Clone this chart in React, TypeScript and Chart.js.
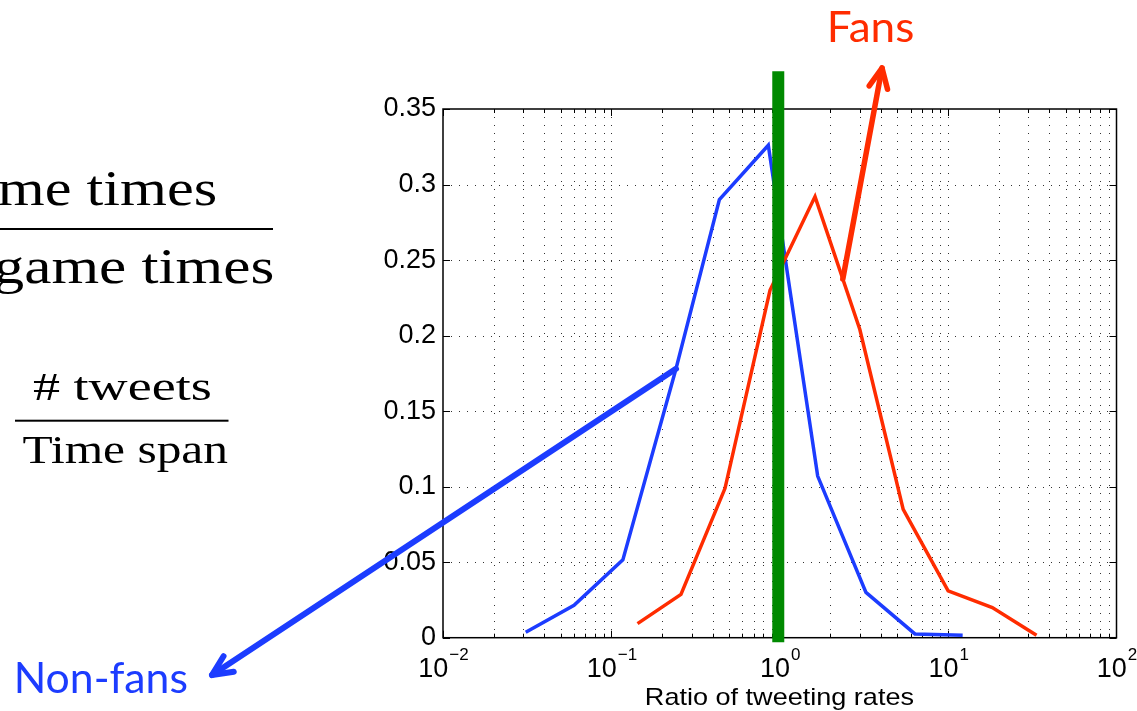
import React, { useEffect, useRef } from "react";
import { Chart, registerables } from "chart.js";

Chart.register(...registerables);

// ---- data ----
const nonFansX = [0.031, 0.06, 0.117, 0.242, 0.438, 0.855, 1.68, 3.25, 6.35, 12.2];
const nonFansY = [0.0036, 0.0215, 0.0515, 0.178, 0.29, 0.326, 0.107, 0.03, 0.0025, 0.0016];
const fansX = [0.143, 0.259, 0.473, 0.875, 1.62, 2.99, 5.41, 10.0, 18.3, 33.5];
const fansY = [0.0093, 0.0287, 0.0989, 0.23, 0.292, 0.204, 0.085, 0.031, 0.02, 0.0016];
const refLineX = [0.98, 0.98];
const refLineY = [-0.003, 0.375];

const yTickLabels = ["0", "0.05", "0.1", "0.15", "0.2", "0.25", "0.3", "0.35"];
const xTickExponents = [-2, -1, 0, 1, 2];
const xTitle = "Ratio of tweeting rates";
const fansLabel = "Fans";
const nonFansLabel = "Non-fans";
const mathTop = ["me times", "game times"];
const mathBottom = ["# tweets", "Time span"];

const BLUE = "#1c3cff";
const RED = "#ff2c00";
const GREEN = "#008a00";
const SANS = '"Liberation Sans", Arial, Helvetica, sans-serif';
const SERIF = '"Liberation Serif", "Times New Roman", serif';
const CALI = 'Lato, "Open Sans", sans-serif';

function toPoints(xs: number[], ys: number[]) {
  return xs.map((v, i) => ({ x: v, y: ys[i] }));
}

function fitText(
  ctx: CanvasRenderingContext2D,
  text: string,
  font: string,
  color: string,
  left: number,
  right: number,
  baseline: number
) {
  ctx.save();
  ctx.font = font;
  ctx.fillStyle = color;
  ctx.textAlign = "left";
  ctx.textBaseline = "alphabetic";
  const m = ctx.measureText(text);
  const ink = m.actualBoundingBoxLeft + m.actualBoundingBoxRight;
  const sx = ink > 0 ? (right - left) / ink : 1;
  ctx.translate(left + m.actualBoundingBoxLeft * sx, baseline);
  ctx.scale(sx, 1);
  ctx.fillText(text, 0, 0);
  ctx.restore();
}

function arrow(
  ctx: CanvasRenderingContext2D,
  x0: number,
  y0: number,
  x1: number,
  y1: number,
  color: string,
  w: number
) {
  ctx.save();
  ctx.strokeStyle = color;
  ctx.lineWidth = w;
  ctx.lineCap = "round";
  ctx.lineJoin = "round";
  ctx.beginPath();
  ctx.moveTo(x0, y0);
  ctx.lineTo(x1, y1);
  ctx.stroke();
  const ang = Math.atan2(y0 - y1, x0 - x1);
  const half = (25 * Math.PI) / 180;
  const len = 22;
  ctx.beginPath();
  ctx.moveTo(x1 + len * Math.cos(ang + half), y1 + len * Math.sin(ang + half));
  ctx.lineTo(x1, y1);
  ctx.lineTo(x1 + len * Math.cos(ang - half), y1 + len * Math.sin(ang - half));
  ctx.stroke();
  ctx.restore();
}

const framePlugin = {
  id: "matlabFrame",
  beforeDatasetsDraw(chart: any) {
    const { ctx, chartArea: a, scales } = chart;
    const x = scales.x;
    const y = scales.y;
    ctx.save();
    // dotted grid
    ctx.strokeStyle = "rgba(0,0,0,0.8)";
    ctx.lineWidth = 1;
    ctx.setLineDash([1, 7]);
    for (let e = -2; e <= 1; e++) {
      for (let k = 1; k <= 9; k++) {
        const v = k * Math.pow(10, e);
        if (v <= 0.01) continue;
        const px = Math.round(x.getPixelForValue(v)) + 0.5;
        ctx.beginPath();
        ctx.moveTo(px, a.top);
        ctx.lineTo(px, a.bottom);
        ctx.stroke();
      }
    }
    for (let i = 1; i < yTickLabels.length - 1; i++) {
      const py = Math.round(y.getPixelForValue(i * 0.05)) + 0.5;
      ctx.beginPath();
      ctx.moveTo(a.left, py);
      ctx.lineTo(a.right, py);
      ctx.stroke();
    }
    ctx.setLineDash([]);
    // inward tick marks
    ctx.strokeStyle = "#000";
    ctx.lineWidth = 1;
    for (let e = -2; e <= 1; e++) {
      for (let k = 1; k <= 9; k++) {
        const v = k * Math.pow(10, e);
        const px = Math.round(x.getPixelForValue(v)) + 0.5;
        const L = k === 1 ? 7 : 4;
        ctx.beginPath();
        ctx.moveTo(px, a.bottom);
        ctx.lineTo(px, a.bottom - L);
        ctx.moveTo(px, a.top);
        ctx.lineTo(px, a.top + L);
        ctx.stroke();
      }
    }
    for (let i = 0; i < yTickLabels.length; i++) {
      const py = Math.round(y.getPixelForValue(i * 0.05)) + 0.5;
      ctx.beginPath();
      ctx.moveTo(a.left, py);
      ctx.lineTo(a.left + 7, py);
      ctx.moveTo(a.right, py);
      ctx.lineTo(a.right - 7, py);
      ctx.stroke();
    }
    // axes box
    ctx.lineWidth = 1.5;
    ctx.strokeRect(a.left, a.top, a.right - a.left, a.bottom - a.top);
    ctx.restore();
  },
  afterDraw(chart: any) {
    const { ctx, chartArea: a, scales } = chart;
    const x = scales.x;
    // x tick labels: 10 with superscript exponent
    ctx.save();
    ctx.fillStyle = "#000";
    ctx.textAlign = "left";
    ctx.textBaseline = "alphabetic";
    for (const e of xTickExponents) {
      const px = x.getPixelForValue(Math.pow(10, e));
      const base = "10";
      const ex = e < 0 ? "\u2212" + -e : String(e);
      ctx.font = `27px ${SANS}`;
      const wb = ctx.measureText(base).width;
      ctx.font = `17px ${SANS}`;
      const we = ctx.measureText(ex).width;
      const start = px - (wb + we) / 2;
      ctx.font = `27px ${SANS}`;
      ctx.fillText(base, start, a.bottom + 39);
      ctx.font = `17px ${SANS}`;
      ctx.fillText(ex, start + wb + 1, a.bottom + 22.5);
    }
    ctx.restore();

    // axis title
    fitText(ctx, xTitle, `24px ${SANS}`, "#000", 646, 914, 705);

    // formulas on the left
    fitText(ctx, mathTop[0], `51px ${SERIF}`, "#000", -1, 215, 205);
    fitText(ctx, mathTop[1], `51px ${SERIF}`, "#000", -4, 272, 283);
    fitText(ctx, mathBottom[0], `40px ${SERIF}`, "#000", 33, 211, 400);
    fitText(ctx, mathBottom[1], `40px ${SERIF}`, "#000", 22.5, 228, 463);
    ctx.save();
    ctx.fillStyle = "#000";
    ctx.fillRect(0, 228, 273, 2);
    ctx.fillRect(15, 419.7, 213.5, 2);
    ctx.restore();

    // annotations
    const nf = chart.getDatasetMeta(2).data[3];
    arrow(ctx, nf.x, nf.y, 212, 675, BLUE, 6);
    const f4 = chart.getDatasetMeta(1).data[4];
    const f5 = chart.getDatasetMeta(1).data[5];
    const t = 0.62;
    arrow(ctx, f4.x + t * (f5.x - f4.x), f4.y + t * (f5.y - f4.y), 882, 68, RED, 5.5);
    fitText(ctx, fansLabel, `42px ${CALI}`, RED, 830, 913, 42);
    fitText(ctx, nonFansLabel, `42px ${CALI}`, BLUE, 16.7, 186.7, 693);
  },
};

export default function App() {
  const ref = useRef<HTMLCanvasElement>(null);
  useEffect(() => {
    const canvas = ref.current;
    if (!canvas) return;
    const chart = new Chart(canvas, {
      type: "line",
      data: {
        datasets: [
          {
            label: "x = 1",
            data: toPoints(refLineX, refLineY),
            borderColor: GREEN,
            borderWidth: 12,
            pointRadius: 0,
            clip: false as any,
            borderCapStyle: "butt",
          },
          {
            label: fansLabel,
            data: toPoints(fansX, fansY),
            borderColor: RED,
            borderWidth: 3.5,
            pointRadius: 0,
            borderJoinStyle: "miter",
          },
          {
            label: nonFansLabel,
            data: toPoints(nonFansX, nonFansY),
            borderColor: BLUE,
            borderWidth: 3.5,
            pointRadius: 0,
            borderJoinStyle: "miter",
          },
        ],
      },
      options: {
        responsive: false,
        animation: false,
        devicePixelRatio: 1,
        layout: { padding: { left: 0, top: 109, right: 20.5, bottom: 73.3 } },
        elements: { line: { tension: 0 } },
        plugins: {
          legend: { display: false },
          tooltip: { enabled: false },
        },
        scales: {
          x: {
            type: "logarithmic",
            min: 0.01,
            max: 100,
            display: false,
          },
          y: {
            type: "linear",
            min: 0,
            max: 0.35,
            afterFit: (s: any) => {
              s.width = 443;
            },
            grid: { display: false, drawTicks: false },
            border: { display: false },
            ticks: {
              stepSize: 0.05,
              padding: 7,
              color: "#000",
              font: { family: SANS, size: 27 },
              callback: (v: any) => yTickLabels[Math.round(Number(v) / 0.05)],
            },
          },
        },
      },
      plugins: [framePlugin],
    });
    return () => chart.destroy();
  }, []);
  return (
    <div
      style={{
        position: "fixed",
        left: 0,
        top: 0,
        width: 1137,
        height: 711,
        background: "#fff",
      }}
    >
      <canvas ref={ref} width={1137} height={711} style={{ display: "block" }} />
    </div>
  );
}
